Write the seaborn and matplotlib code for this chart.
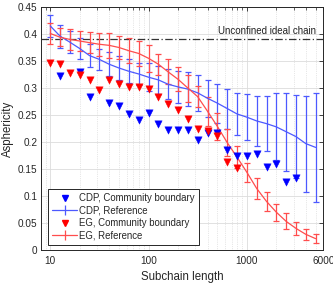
import numpy as np
import pandas as pd
import matplotlib
matplotlib.use('Agg')
import matplotlib.pyplot as plt
import seaborn as sns
from matplotlib.lines import Line2D
from matplotlib.ticker import FixedLocator, NullFormatter, LogLocator

# subchain lengths (log spaced, 10 .. ~5000)
subchain = [10, 12.6, 15.8, 20, 25.1, 31.6, 39.8, 50.1, 63.1, 79.4,
            100, 126, 158, 200, 251, 316, 398, 501, 631, 794,
            1000, 1259, 1585, 1995, 2512, 3162, 3981, 5012]

# CDP
cdp_boundary = [np.nan, 0.323, np.nan, 0.329, 0.283, np.nan, 0.273, 0.266, 0.252, 0.240,
                0.254, 0.234, 0.223, 0.222, 0.222, 0.204, 0.216, 0.217, 0.186, 0.174,
                0.174, 0.177, 0.153, 0.160, 0.126, 0.134, np.nan, np.nan]
cdp_ref = [0.415, 0.396, 0.385, 0.373, 0.360, 0.353, 0.344, 0.337, 0.331, 0.326,
           0.320, 0.315, 0.307, 0.302, 0.298, 0.291, 0.281, 0.272, 0.262, 0.252,
           0.246, 0.239, 0.234, 0.228, 0.219, 0.210, 0.197, 0.190]
cdp_err = [0.020, 0.021, 0.021, 0.020, 0.022, 0.020, 0.022, 0.023, 0.022, 0.020,
           0.026, 0.026, 0.028, 0.030, 0.031, 0.033, 0.034, 0.036, 0.037, 0.039,
           0.042, 0.046, 0.051, 0.062, 0.072, 0.077, 0.089, 0.101]

# EG
eg_boundary = [0.347, 0.344, 0.327, 0.324, 0.315, 0.297, 0.315, 0.307, 0.301, 0.301,
               0.298, 0.283, 0.270, 0.260, 0.242, 0.225, 0.221, 0.211, 0.163, 0.152,
               np.nan, np.nan, np.nan, np.nan, np.nan, np.nan, np.nan, np.nan]
eg_ref = [0.401, 0.394, 0.390, 0.387, 0.384, 0.381, 0.379, 0.375, 0.369, 0.364,
          0.355, 0.344, 0.330, 0.316, 0.300, 0.284, 0.257, 0.229, 0.199, 0.172,
          0.144, 0.114, 0.090, 0.070, 0.053, 0.040, 0.029, 0.021]
eg_err = [0.019, 0.017, 0.019, 0.019, 0.020, 0.021, 0.023, 0.021, 0.023, 0.023,
          0.025, 0.019, 0.023, 0.022, 0.025, 0.020, 0.027, 0.025, 0.025, 0.021,
          0.018, 0.019, 0.018, 0.016, 0.015, 0.012, 0.010, 0.008]

ideal_chain = 0.39

df = pd.DataFrame({'n': subchain, 'cdp_b': cdp_boundary, 'eg_b': eg_boundary})

sns.set_style('white')
plt.rcParams['font.family'] = ['Liberation Sans', 'DejaVu Sans']

fig = plt.figure(figsize=(3.33, 2.85), dpi=100)
ax = fig.add_axes([0.123, 0.1228, 0.848, 0.8526])

blue_l = (0.3, 0.35, 1.0)
red_l = (1.0, 0.3, 0.3)

ax.errorbar(subchain, cdp_ref, yerr=cdp_err, color=blue_l, lw=0.9, elinewidth=0.9,
            capsize=2.5, capthick=0.9, zorder=3)
ax.errorbar(subchain, eg_ref, yerr=eg_err, color=red_l, lw=0.9, elinewidth=0.9,
            capsize=2.5, capthick=0.9, zorder=3)
sns.scatterplot(data=df, x='n', y='cdp_b', marker='v', color='blue', s=28,
                edgecolor='blue', linewidth=0.3, ax=ax, zorder=4)
sns.scatterplot(data=df, x='n', y='eg_b', marker='v', color='red', s=28,
                edgecolor='red', linewidth=0.3, ax=ax, zorder=4)

ax.axhline(ideal_chain, color='#333333', lw=0.9, ls='-.', dashes=(6, 2, 1, 2), zorder=2)
ax.text(5000, ideal_chain + 0.006, 'Unconfined ideal chain', ha='right', va='bottom',
        fontsize=7, color='#222222')

ax.set_xscale('log')
ax.set_xlim(8.05, 6000)
ax.set_ylim(0, 0.45)
ax.xaxis.set_major_locator(FixedLocator([10, 100, 1000, 6000]))
ax.set_xticklabels(['10', '100', '1000', '6000'])
ax.xaxis.set_minor_locator(LogLocator(base=10, subs=np.arange(2, 10)))
ax.xaxis.set_minor_formatter(NullFormatter())
ax.set_yticks(np.arange(0, 0.451, 0.05))
ax.set_yticklabels(['0', '0.05', '0.1', '0.15', '0.2', '0.25', '0.3', '0.35', '0.4', '0.45'])

ax.grid(True, which='major', color='#dcdcdc', lw=0.6)
ax.grid(True, which='minor', axis='x', color='#d0d0d0', lw=0.5, ls=':')
ax.tick_params(which='both', direction='in', top=True, right=True, labelsize=7.2,
               colors='#262626')
ax.tick_params(axis='x', pad=4)
ax.tick_params(axis='y', pad=2.5)
ax.tick_params(which='major', length=3, width=0.6)
ax.tick_params(which='minor', length=1.8, width=0.5)
for s in ax.spines.values():
    s.set_color('#262626')
    s.set_linewidth(0.7)

ax.set_xlabel('Subchain length', fontsize=8.3, color='#262626', labelpad=4)
ax.set_ylabel('Asphericity', fontsize=8.3, color='#262626', labelpad=3)

handles = [
    Line2D([], [], ls='none', marker='v', color='blue', markersize=5),
    ax.errorbar([], [], yerr=[], color=blue_l, lw=0.9, capsize=2.5),
    Line2D([], [], ls='none', marker='v', color='red', markersize=5),
    ax.errorbar([], [], yerr=[], color=red_l, lw=0.9, capsize=2.5),
]
labels = ['CDP, Community boundary', 'CDP, Reference',
          'EG, Community boundary', 'EG, Reference']
leg = ax.legend(handles, labels, loc='lower left', bbox_to_anchor=(0.025, 0.022),
                fontsize=6.9, frameon=True, fancybox=False, framealpha=1,
                edgecolor='#262626', borderpad=0.45, labelspacing=0.25,
                handlelength=2.6, handletextpad=0.2, borderaxespad=0)
leg.get_frame().set_linewidth(0.7)

fig.savefig('out.png', dpi=100)
